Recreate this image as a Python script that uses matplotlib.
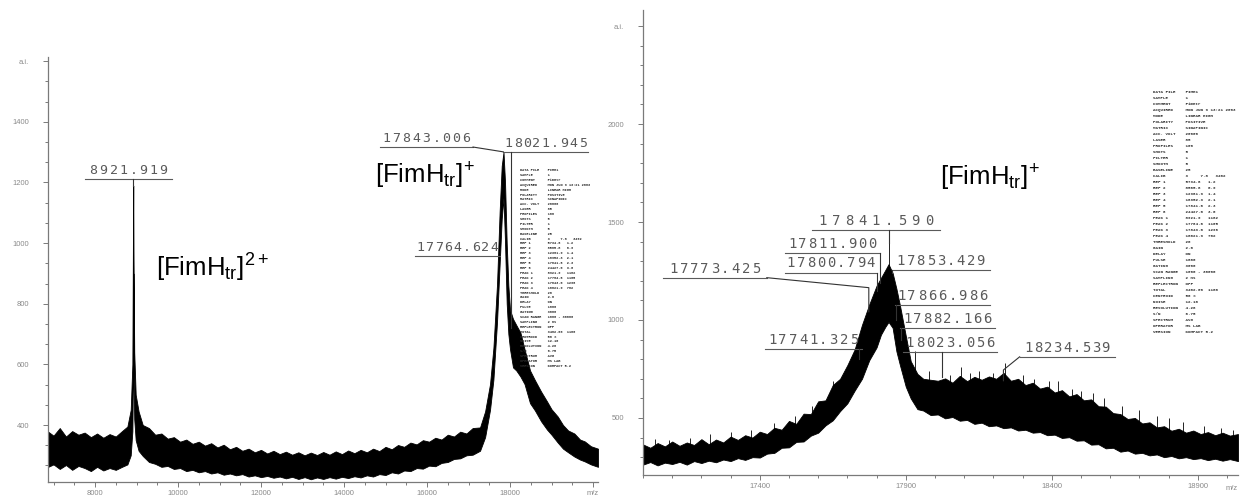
import matplotlib
matplotlib.use('Agg')
import matplotlib.pyplot as plt
from matplotlib.ticker import MultipleLocator, FixedLocator, FixedFormatter
from matplotlib.transforms import offset_copy

plt.rcParams['mathtext.fontset'] = 'custom'
plt.rcParams['mathtext.rm'] = 'Liberation Sans'
plt.rcParams['mathtext.it'] = 'Liberation Sans:italic'
plt.rcParams['font.family'] = ['Liberation Sans', 'DejaVu Sans']

# ---------------- data: left spectrum (full range) ----------------
left_mz = [6870, 7000, 7150, 7300, 7450, 7600, 7750, 7900, 8050, 8200, 8350, 8500, 8650,
           8780, 8860, 8900, 8915, 8921, 8928, 8945, 8980, 9050, 9150, 9300, 9450, 9600,
           9750, 9900, 10050, 10200, 10350, 10500, 10650, 10800, 10950, 11100, 11250,
           11400, 11550, 11700, 11850, 12000, 12150, 12300, 12450, 12600, 12750, 12900,
           13050, 13200, 13350, 13500, 13650, 13800, 13950, 14100, 14250, 14400, 14550,
           14700, 14850, 15000, 15150, 15300, 15450, 15600, 15750, 15900, 16050, 16200,
           16350, 16500, 16650, 16800, 16950, 17100, 17277, 17400, 17518, 17600, 17687,
           17750, 17800, 17843, 17880, 17920, 17960, 18000, 18072, 18150, 18250, 18350,
           18482, 18600, 18750, 18891, 19000, 19150, 19277, 19400, 19550, 19687, 19800,
           19950, 20120]
left_lo = [262, 270, 255, 268, 252, 265, 258, 248, 262, 250, 258, 252, 262,
           270, 300, 380, 560, 900, 560, 420, 350, 315, 298, 278, 272, 262,
           265, 255, 258, 248, 252, 244, 248, 240, 244, 236, 240,
           234, 238, 230, 234, 228, 232, 226, 230, 224, 229, 222,
           228, 221, 227, 222, 228, 223, 229, 225, 231, 227, 234,
           230, 238, 235, 244, 240, 250, 248, 258, 256, 266, 264,
           275, 278, 288, 290, 300, 302, 315, 360, 450, 550, 740,
           930, 1080, 1150, 1000, 800, 700, 650, 590, 580, 560, 535,
           472, 448, 412, 385, 368, 342, 322, 310, 296, 286, 280,
           270, 262]
left_hi = [378, 365, 390, 362, 380, 368, 375, 360, 372, 358, 370, 362, 380,
           395, 450, 600, 1050, 1190, 950, 640, 500, 445, 400, 390, 368, 372,
           355, 360, 345, 352, 338, 345, 332, 340, 326, 335, 320,
           328, 315, 322, 310, 318, 306, 315, 304, 312, 302, 310,
           300, 309, 301, 311, 302, 313, 304, 316, 307, 318, 310,
           322, 314, 328, 320, 334, 328, 342, 336, 350, 345, 358,
           352, 368, 362, 378, 372, 390, 392, 445, 535, 655, 865,
           1105, 1255, 1300, 1200, 1000, 860, 780, 750, 730, 705, 650,
           580, 548, 510, 478, 452, 428, 400, 382, 372, 352, 346,
           330, 322]

left_labels = ["8921.919", "17843.006", "18021.945", "17764.624"]
left_label_top = [1190, 1300, 720, 958]

left_yticks = [400, 600, 800, 1000, 1200, 1400, 1600]
left_yticklabels = ["400", "600", "800", "1000", "1200", "1400", "a.i."]
left_xticks = [8000, 10000, 12000, 14000, 16000, 18000, 20000]
left_xticklabels = ["8000", "10000", "12000", "14000", "16000", "18000", "m/z"]

# ---------------- data: right spectrum (zoom) ----------------
right_mz = [17000, 17025, 17050, 17075, 17100, 17125, 17150, 17175, 17200, 17225, 17250,
            17275, 17300, 17325, 17350, 17375, 17400, 17425, 17450, 17475, 17500, 17525,
            17550, 17575, 17600, 17625, 17650, 17675, 17700, 17725, 17750, 17775, 17800,
            17815, 17830, 17841, 17855, 17868, 17880, 17900, 17917, 17940, 17960, 17985,
            18010, 18035, 18060, 18085, 18110, 18135, 18160, 18185, 18210, 18235, 18260,
            18285, 18310, 18335, 18360, 18385, 18410, 18435, 18460, 18485, 18510, 18535,
            18560, 18585, 18610, 18635, 18660, 18685, 18710, 18735, 18760, 18785, 18810,
            18835, 18860, 18885, 18910, 18935, 18960, 18985, 19010, 19038]
right_lo = [262, 275, 258, 272, 265, 276, 262, 280, 270, 282, 274,
            288, 280, 295, 286, 300, 298, 318, 322, 348, 350, 378,
            380, 410, 425, 462, 488, 535, 575, 640, 700, 795, 860,
            925, 965, 990, 960, 840, 770, 660, 600, 545, 538, 515,
            518, 498, 505, 486, 490, 470, 476, 458, 462, 448, 452,
            436, 440, 425, 428, 412, 415, 398, 402, 384, 386, 364,
            366, 345, 348, 328, 334, 318, 322, 309, 314, 300, 306,
            294, 300, 290, 295, 285, 292, 282, 290, 280]
right_hi = [365, 348, 372, 355, 380, 358, 375, 362, 392, 366, 390,
            375, 405, 388, 412, 400, 430, 418, 450, 440, 485, 470,
            522, 520, 585, 590, 668, 700, 770, 850, 975, 1080, 1175,
            1215, 1255, 1285, 1240, 1160, 1075, 920, 790, 725, 700, 695,
            690, 702, 680, 715, 688, 710, 695, 712, 700, 730, 690,
            700, 668, 680, 650, 660, 630, 642, 610, 622, 590, 595,
            560, 558, 525, 520, 495, 500, 472, 478, 452, 458, 435,
            445, 425, 436, 418, 428, 412, 425, 410, 418]

right_spike_mz = [17040, 17090, 17160, 17230, 17300, 17370, 17450, 17520, 17580, 17650,
                  17841.59, 17931, 17980, 18050, 18090, 18120, 18150, 18200, 18240, 18300,
                  18340, 18390, 18420, 18470, 18500, 18540, 18580, 18640, 18700, 18760,
                  18800, 18850, 18920, 18980, 19020]
right_spike_top = [395, 390, 400, 420, 430, 440, 475, 510, 560, 690,
                   1395, 840, 740, 720, 760, 730, 740, 730, 780, 720,
                   700, 690, 690, 650, 640, 630, 600, 560, 540, 510,
                   500, 480, 460, 450, 440]
right_spike_base = [320, 320, 320, 330, 340, 350, 380, 420, 460, 560,
                    1200, 650, 600, 590, 580, 580, 570, 570, 560, 550,
                    540, 520, 510, 500, 490, 470, 450, 420, 390, 370,
                    360, 350, 340, 330, 330]

right_labels = ["17841.590", "17811.900", "17800.794", "17773.425", "17853.429",
                "17866.986", "17882.166", "17741.325", "18023.056", "18234.539"]
right_label_top = [1395, 1190, 1150, 1042, 1240, 1000, 900, 800, 710, 690]

right_yticks = [500, 1000, 1500, 2000, 2500]
right_yticklabels = ["500", "1000", "1500", "2000", "a.i."]
right_xticks = [17400, 17900, 18400, 18900]
right_xticklabels = ["17400", "17900", "18400", "18900"]

# ---------------- layout (label placement, in data units) ----------------
# underline x0, x1, y, elbow y where the leader reaches the peak m/z, char pitch (px)
left_lab_layout = [(7759, 9855, 1212, 1212, 10), (14867, 17108, 1317, 1301, 10),
                   (17843, 19880, 1301, 1301, 9.3), (15711, 17759, 958, 958, 9.3)]
right_lab_layout = [(17578, 18016, 1457, 1457, 13.3), (17486, 17812, 1344, 1344, 10),
                    (17486, 17801, 1242, 1242, 10), (17068, 17424, 1216, 1165, 10.3),
                    (17852, 18188, 1257, 1257, 10), (17862, 18188, 1078, 1078, 10.2),
                    (17879, 18205, 960, 960, 10), (17417, 17749, 853, 853, 10.2),
                    (17890, 18212, 838, 838, 10), (18290, 18616, 812, 745, 9.6)]

W, H = 1244, 499
fig = plt.figure(figsize=(W / 100, H / 100), dpi=100)
AX_COL = '#7a7a7a'
LBL = '#5a5a5a'


def px_axes(x0, y0, x1, y1):
    return fig.add_axes([x0 / W, 1 - y1 / H, (x1 - x0) / W, (y1 - y0) / H])


def style(ax, xt, xtl, yt, ytl, xmin, ymin):
    for s in ('top', 'right'):
        ax.spines[s].set_visible(False)
    for s in ('left', 'bottom'):
        ax.spines[s].set_color(AX_COL)
        ax.spines[s].set_linewidth(0.9)
    ax.xaxis.set_major_locator(FixedLocator(xt))
    ax.xaxis.set_major_formatter(FixedFormatter(xtl))
    ax.yaxis.set_major_locator(FixedLocator(yt))
    ax.yaxis.set_major_formatter(FixedFormatter(ytl))
    ax.xaxis.set_minor_locator(MultipleLocator(xmin))
    ax.yaxis.set_minor_locator(MultipleLocator(ymin))
    ax.tick_params(which='both', direction='out', color=AX_COL, width=0.7)
    ax.tick_params(which='major', length=3.5)
    ax.tick_params(which='minor', length=2.2)
    ax.tick_params(axis='x', labelsize=5.5, labelcolor='#8a8a8a', pad=2)
    ax.tick_params(axis='y', labelsize=5.5, labelcolor='#8a8a8a', pad=10)
    ax.patch.set_alpha(0)


def spaced_text(ax, xc, y, s, pitch_px, fs):
    n = len(s)
    pitch_pt = pitch_px * 0.72
    for i, ch in enumerate(s):
        off = (i - (n - 1) / 2) * pitch_pt
        tr = offset_copy(ax.transData, fig=fig, x=off, y=1.5, units='points')
        ax.text(xc, y, ch, transform=tr, ha='center', va='bottom', fontsize=fs,
                family='DejaVu Sans Mono', color=LBL, clip_on=False)


def draw_labels(ax, labels, tops, layout, fs):
    for lab, top, (x0, x1, y, ey, pitch) in zip(labels, tops, layout):
        mz = float(lab)
        ax.plot([x0, x1], [y, y], color=LBL, lw=0.8, clip_on=False)
        spaced_text(ax, (x0 + x1) / 2, y, lab, pitch, fs)
        if x0 <= mz <= x1:
            ax.plot([mz, mz], [y, top], color='#333333', lw=0.8, clip_on=False)
        else:
            xe = x1 if mz > x1 else x0
            ax.plot([xe, mz, mz], [y, ey, top], color='#333333', lw=0.8, clip_on=False)


# ---------------- left panel ----------------
axL = px_axes(48, 57, 598, 482)
axL.fill_between(left_mz, left_lo, left_hi, color='black', lw=0.6, edgecolor='black')
axL.set_xlim(6867, 20120)
axL.set_ylim(212, 1614)
style(axL, left_xticks, left_xticklabels, left_yticks, left_yticklabels, 500, 200 / 3)
draw_labels(axL, left_labels, left_label_top, left_lab_layout, 9.5)

# ---------------- right panel ----------------
axR = px_axes(643, 10, 1238, 475)
axR.fill_between(right_mz, right_lo, right_hi, color='black', lw=0.6, edgecolor='black')
axR.vlines(right_spike_mz, right_spike_base, right_spike_top, color='black', lw=0.6)
axR.set_xlim(17000, 19038)
axR.set_ylim(209, 2582)
style(axR, right_xticks, right_xticklabels, right_yticks, right_yticklabels, 100, 100)
axR.text(1.0, -0.022, 'm/z', transform=axR.transAxes, ha='right', va='top',
         fontsize=5.5, color='#8a8a8a')
draw_labels(axR, right_labels, right_label_top, right_lab_layout, 10)

# ---------------- ion labels ----------------
fig.text(425 / W, 1 - 176 / H, '[FimH$_{\\mathrm{tr}}$]$^{+}$', ha='center', va='center',
         fontsize=18.5, color='black')
fig.text(212 / W, 1 - 268 / H, '[FimH$_{\\mathrm{tr}}$]$^{2+}$', ha='center', va='center',
         fontsize=18.5, color='black')
fig.text(990 / W, 1 - 178 / H, '[FimH$_{\\mathrm{tr}}$]$^{+}$', ha='center', va='center',
         fontsize=18.5, color='black')

# ---------------- instrument parameter printouts ----------------
meta = [
    "DATA FILE    FIMH1", "SAMPLE       1", "COMMENT      FimHtr",
    "ACQUIRED     MON JUN 9 13:21 2003", "MODE         LINEAR HIGH",
    "POLARITY     POSITIVE", "MATRIX       SINAPINIC", "ACC. VOLT    20000",
    "LASER        85", "PROFILES     100", "SHOTS        5", "FILTER       1",
    "SMOOTH       5", "BASELINE     25", "CALIB        3     7.8   3402",
    "REF 1        5734.6   1.2", "REF 2        8565.8   0.9", "REF 3        12361.9  1.4",
    "REF 4        16952.3  2.1", "REF 5        17841.6  2.3", "REF 6        24427.0  3.0",
    "PEAK 1       8921.9   1182", "PEAK 2       17764.6  1105", "PEAK 3       17843.0  1296",
    "PEAK 4       18021.9  702", "THRESHOLD    20", "GAIN         2.0",
    "DELAY        ON", "PULSE        1600", "GATING       3000",
    "SCAN RANGE   1000 - 30000", "SAMPLING     2 ns", "REFLECTRON   OFF",
    "TOTAL        3402.00  1180", "CENTROID     50 %", "NOISE        12.10",
    "RESOLUTION   4.28", "S/N          6.75", "SPECTRUM     AVG", "OPERATOR     MS LAB",
    "VERSION      KOMPACT 5.2",
]


def meta_block(x0, y0, y1, fs):
    n = len(meta)
    step = (y1 - y0) / (n - 1)
    for i, line in enumerate(meta):
        fig.text(x0 / W, 1 - (y0 + i * step) / H, line, ha='left', va='center',
                 fontsize=fs, family='Liberation Mono', color='#2a2a2a', fontweight='bold')


meta_block(520, 170, 366, 2.6)
meta_block(1153, 92, 332, 3.0)

fig.savefig('out.png', dpi=100, facecolor='white')
